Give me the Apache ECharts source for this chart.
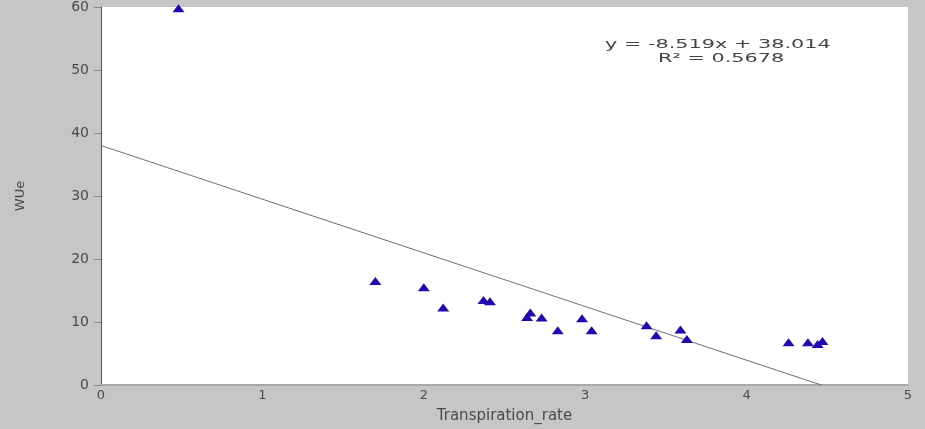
<!DOCTYPE html>
<html>
<head>
<meta charset="utf-8">
<script src="https://cdn.jsdelivr.net/npm/echarts@6/dist/echarts.min.js"></script>
<style>
  html, body { margin: 0; padding: 0; background: #c6c6c6; }
  #main { width: 925px; height: 429px; }
</style>
</head>
<body>
<div id="main"></div>
<script>
// transpiration rate (x) vs WUe (y)
const transpiration = [0.48, 1.70, 2.00, 2.12, 2.37, 2.41, 2.64, 2.66, 2.73, 2.83, 2.98, 3.04,
                       3.38, 3.44, 3.59, 3.63, 4.26, 4.38, 4.44, 4.47];
const wue = [59.8, 16.5, 15.5, 12.3, 13.5, 13.3, 10.8, 11.5, 10.7, 8.7, 10.6, 8.7,
             9.5, 7.9, 8.8, 7.3, 6.8, 6.8, 6.5, 7.0];
const slope = -8.519;
const intercept = 38.014;
const rSquared = 0.5678;

const points = transpiration.map((x, i) => [x, wue[i]]);
const xZero = -intercept / slope;
const trendLine = [[0, intercept], [xZero, 0]];

const chart = echarts.init(document.getElementById('main'));
chart.setOption({
    backgroundColor: '#c6c6c6',
    animation: false,
    grid: {left: 101, top: 7, right: 17, bottom: 41, show: true, backgroundColor: '#ffffff', borderWidth: 0},
    xAxis: {
        type: 'value',
        min: 0, max: 5, interval: 1,
        name: 'Transpiration_rate',
        nameLocation: 'middle',
        nameGap: 24,
        nameTextStyle: {color: '#4a4a4a', fontSize: 15, fontFamily: 'DejaVu Sans'},
        axisLine: {show: true, lineStyle: {color: '#a8a8a8', width: 2}},
        axisTick: {show: false},
        axisLabel: {color: '#4a4a4a', fontSize: 13, fontFamily: 'DejaVu Sans', margin: 4},
        splitLine: {show: false}
    },
    yAxis: {
        type: 'value',
        min: 0, max: 60, interval: 10,
        name: 'WUe',
        nameLocation: 'middle',
        nameGap: 74,
        nameTextStyle: {color: '#4a4a4a', fontSize: 13, fontFamily: 'DejaVu Sans'},
        axisLine: {show: true, lineStyle: {color: '#555', width: 1}},
        axisTick: {show: true, length: 7, lineStyle: {color: '#888'}},
        axisLabel: {color: '#4a4a4a', fontSize: 14, fontFamily: 'DejaVu Sans', margin: 12},
        splitLine: {show: false}
    },
    series: [
        {
            type: 'line',
            data: trendLine,
            symbol: 'none',
            lineStyle: {color: '#6e6e80', width: 1},
            z: 1
        },
        {
            type: 'scatter',
            data: points,
            symbol: 'triangle',
            symbolSize: [12, 8],
            itemStyle: {color: '#2208b0', opacity: 1},
            z: 2
        }
    ],
    graphic: [
        {
            type: 'text',
            x: 605, y: 38,
            scaleX: 1.6,
            style: {
                text: 'y = ' + slope.toFixed(3) + 'x + ' + intercept.toFixed(3),
                fill: '#444', fontSize: 13, fontFamily: 'DejaVu Sans'
            }
        },
        {
            type: 'text',
            x: 658, y: 52,
            scaleX: 1.6,
            style: {
                text: 'R² = ' + rSquared.toFixed(4),
                fill: '#444', fontSize: 13, fontFamily: 'DejaVu Sans'
            }
        }
    ]
});
</script>
</body>
</html>
